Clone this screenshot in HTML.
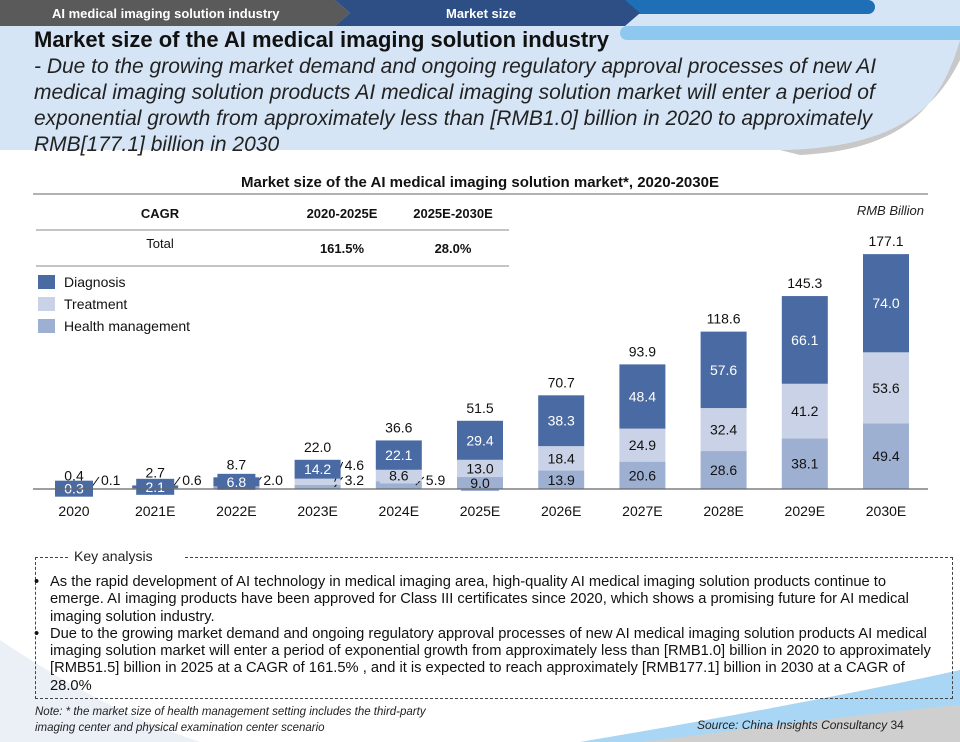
<!DOCTYPE html>
<html><head><meta charset="utf-8">
<style>
body{margin:0;width:960px;height:742px;overflow:hidden;background:#fff;font-family:"Liberation Sans",Arial,sans-serif;position:relative}
.abs{position:absolute}
</style></head>
<body>
<svg class="abs" style="left:0;top:0" width="960" height="742">
  <path d="M0,0 H960 V60 C930,120 880,148 780,150 H0 Z" fill="#d6e5f6"/>
  <path d="M960,40 C940,110 900,150 800,155 L780,150 C880,148 930,120 960,60 Z" fill="#c8c8c8"/>
  <path d="M0,640 C60,680 120,715 200,742 H0 Z" fill="#e6ecf4" opacity="0.8"/>
  <path d="M580,742 C740,715 870,690 960,670 V742 Z" fill="#a9d6f4"/>
  <path d="M640,742 C780,725 880,712 960,705 V742 Z" fill="#cfcfcf"/>
  <polygon points="0,0 335,0 350,13 335,26 0,26" fill="#5a5a5a"/>
  <rect x="620" y="26" width="520" height="14" rx="7" fill="#8fc8ee"/>
  <rect x="590" y="0" width="285" height="14" rx="7" fill="#1e6fb5"/>
  <polygon points="335,0 625,0 640,13 625,26 335,26 350,13" fill="#2e4f86"/>
  <text x="52" y="18" font-size="13" font-weight="bold" fill="#fff">AI medical imaging solution industry</text>
  <text x="446" y="18" font-size="13" font-weight="bold" fill="#fff">Market size</text>
</svg>
<div class="abs" style="left:34px;top:27px;font-size:22px;font-weight:bold;color:#111">Market size of the AI medical imaging solution industry</div>
<div class="abs" style="left:34px;top:54px;width:885px;font-size:21px;font-style:italic;line-height:26px;color:#222">- Due to the growing market demand and ongoing regulatory approval processes of new AI medical imaging solution products AI medical imaging solution market will enter a period of exponential growth from approximately less than [RMB1.0] billion in 2020 to approximately RMB[177.1] billion in 2030</div>

<svg id="chart" class="abs" style="left:0;top:0" width="960" height="742">
  <text x="480" y="187" text-anchor="middle" font-size="15" font-weight="bold" fill="#111">Market size of the AI medical imaging solution market*, 2020-2030E</text>
  <line x1="33" y1="194" x2="928" y2="194" stroke="#999" stroke-width="1.5"/>
  <text x="924" y="215" text-anchor="end" font-size="13" font-style="italic" fill="#222">RMB Billion</text>
  <g font-size="13" fill="#111">
    <text x="160" y="218" text-anchor="middle" font-weight="bold">CAGR</text>
    <text x="342" y="218" text-anchor="middle" font-weight="bold">2020-2025E</text>
    <text x="453" y="218" text-anchor="middle" font-weight="bold">2025E-2030E</text>
    <line x1="36" y1="230" x2="509" y2="230" stroke="#888"/>
    <text x="160" y="248" text-anchor="middle">Total</text>
    <text x="342" y="253" text-anchor="middle" font-weight="bold">161.5%</text>
    <text x="453" y="253" text-anchor="middle" font-weight="bold">28.0%</text>
    <line x1="36" y1="266" x2="509" y2="266" stroke="#888"/>
  </g>
  <g id="legend"></g>
  <g id="bars"></g>
</svg>

<div class="abs" style="left:35px;top:557px;width:916px;height:141px;border:1px dashed #444;border-top:none"></div>
<div class="abs" style="left:35px;top:557px;width:38px;border-top:1px dashed #444"></div>
<div class="abs" style="left:185px;top:557px;width:768px;border-top:1px dashed #444"></div>
<div class="abs" style="left:70px;top:548px;font-size:14px;color:#222;background:#fff;padding:0 4px">Key analysis</div>
<div class="abs" style="left:50px;top:574px;font-size:14.7px;line-height:17.3px;color:#111;white-space:nowrap">
  <div style="position:relative"><span style="position:absolute;left:-16px">•</span>As the rapid development of AI technology in medical imaging area, high-quality AI medical imaging solution products continue to<br>emerge. AI imaging products have been approved for Class III certificates since 2020, which shows a promising future for AI medical<br>imaging solution industry.</div>
  <div style="position:relative"><span style="position:absolute;left:-16px">•</span>Due to the growing market demand and ongoing regulatory approval processes of new AI medical imaging solution products AI medical<br>imaging solution market will enter a period of exponential growth from approximately less than [RMB1.0] billion in 2020 to approximately<br>[RMB51.5] billion in 2025 at a CAGR of 161.5% , and it is expected to reach approximately [RMB177.1] billion in 2030 at a CAGR of<br>28.0%</div>
</div>
<div class="abs" style="left:35px;top:704px;font-size:11.5px;font-style:italic;line-height:16px;color:#222">Note: * the market size of health management setting includes the third-party<br>imaging center and physical examination center scenario</div>
<div class="abs" style="left:697px;top:718px;font-size:12px;color:#222"><i>Source: China Insights Consultancy</i> 34</div>

<script>
const categories=["2020","2021E","2022E","2023E","2024E","2025E","2026E","2027E","2028E","2029E","2030E"];
const diagnosis=[0.3,2.1,6.8,14.2,22.1,29.4,38.3,48.4,57.6,66.1,74.0];
const treatment=[0,0,0,4.6,8.6,13.0,18.4,24.9,32.4,41.2,53.6];
const health=[0.1,0.6,2.0,3.2,5.9,9.0,13.9,20.6,28.6,38.1,49.4];
const totals=["0.4","2.7","8.7","22.0","36.6","51.5","70.7","93.9","118.6","145.3","177.1"];
const seriesNames=["Diagnosis","Treatment","Health management"];

const NS="http://www.w3.org/2000/svg";
const colors={d:"#4a6aa3",t:"#c9d2e6",h:"#9eb0d1"};
const base=489, scale=1.327, x0=74, step=81.2, bw=46;
const xPos=i=>x0+i*step;
const yH=v=>v*scale;
function mk(tag,attrs,parent){const e=document.createElementNS(NS,tag);for(const k in attrs)e.setAttribute(k,attrs[k]);parent.appendChild(e);return e;}
const g=document.getElementById('bars');
const lg=document.getElementById('legend');
[colors.d,colors.t,colors.h].forEach((c,i)=>{
  const r=mk('rect',{x:38,y:275+i*22,width:17,height:14,fill:c},lg);
  
  
  const t=mk('text',{x:64,y:287+i*22,'font-size':14,fill:'#111'},lg);
  t.textContent=seriesNames[i];
  
  
});
categories.forEach((cat,i)=>{
  const cx=xPos(i);
  const segs=[{v:health[i],c:colors.h,n:'health'},{v:treatment[i],c:colors.t,n:'treatment'},{v:diagnosis[i],c:colors.d,n:'diagnosis'}];
  let y=base; let outIdx=0;
  segs.forEach(s=>{
    if(s.v<=0)return;
    const h=yH(s.v); y-=h;
    const r=mk('rect',{x:cx-bw/2,y:y,width:bw,height:h,fill:s.c},g);
    
    
    const mid=y+h/2;
    const tc=s.n==='diagnosis'?'#fff':'#111';
    if(s.n==='diagnosis'||h>=10){
      if(h<18){mk('rect',{x:cx-19,y:mid-8,width:38,height:16,fill:s.c},g);}
      const t=mk('text',{x:cx,y:mid+5,'text-anchor':'middle','font-size':14,fill:tc},g);
      t.textContent=s.v.toFixed(1);
      
      
    } else {
      const ly=base-4-outIdx*15;
      mk('line',{x1:cx+17,y1:Math.min(mid,base-1),x2:cx+25,y2:ly-8,stroke:'#111'},g);
      const t=mk('text',{x:cx+27,y:ly,'font-size':14,fill:'#111'},g);
      t.textContent=s.v.toFixed(1);
      
      
      outIdx++;
    }
  });
  const tt=mk('text',{x:cx,y:y-8,'text-anchor':'middle','font-size':14,fill:'#111'},g);
  tt.textContent=totals[i];
  
  
  const cl=mk('text',{x:cx,y:516,'text-anchor':'middle','font-size':14,fill:'#111'},g);
  cl.textContent=cat;
  
  
});
const ax=mk('line',{x1:33,y1:base,x2:928,y2:base,stroke:'#666','stroke-width':1.2},g);


</script>
</body></html>
